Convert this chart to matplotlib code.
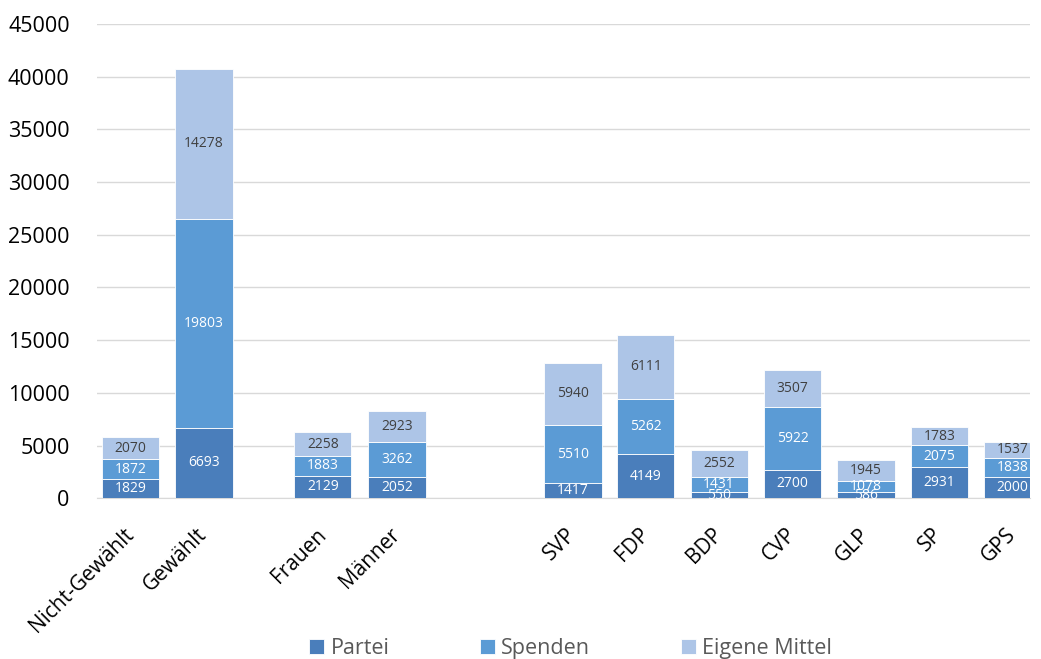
import numpy as np
import matplotlib.pyplot as plt

categories = ['Nicht-Gewählt', 'Gewählt', 'Frauen', 'Männer', 'SVP', 'FDP',
              'BDP', 'CVP', 'GLP', 'SP', 'GPS']
partei = [1829, 6693, 2129, 2052, 1417, 4149, 550, 2700, 586, 2931, 2000]
spenden = [1872, 19803, 1883, 3262, 5510, 5262, 1431, 5922, 1078, 2075, 1838]
eigene = [2070, 14278, 2258, 2923, 5940, 6111, 2552, 3507, 1945, 1783, 1537]

plt.rcParams['font.family'] = ['Open Sans', 'DejaVu Sans']

# slot positions (groups separated by gaps)
xpos = np.array([0, 1, 2.62, 3.63, 6.03, 7.02, 8.02, 9.02, 10.02, 11.02, 12.02])
width = 0.78

fig = plt.figure(figsize=(10.41, 6.59), dpi=100)
ax = fig.add_axes([0.093, 0.244, 0.896, 0.7196])

series = [('Partei', partei, '#4a7ebb', 'white'),
          ('Spenden', spenden, '#5b9bd5', 'white'),
          ('Eigene Mittel', eigene, '#adc5e7', '#404040')]
bottom = np.zeros(len(categories))
for name, vals, col, tcol in series:
    vals = np.array(vals)
    ax.bar(xpos, vals, width, bottom=bottom, color=col, edgecolor='white',
           linewidth=0.6, label=name, zorder=3)
    for x, b, v in zip(xpos, bottom, vals):
        ax.text(x, b + v / 2, str(v), ha='center', va='center', fontsize=10,
                color=tcol, zorder=4)
    bottom += vals

ax.set_ylim(0, 45000)
ax.set_xlim(-0.46, 12.25)
ax.set_yticks(range(0, 45001, 5000))
ax.yaxis.grid(True, color='#d9d9d9', linewidth=1, zorder=0)
ax.tick_params(axis='y', length=0, labelsize=15.5, pad=19.5)
ax.tick_params(axis='x', length=0, labelsize=15, pad=24)
ax.set_xticks(xpos)
ax.set_xticklabels(categories, rotation=45, ha='right', va='center',
                   rotation_mode='anchor')
for s in ['top', 'right', 'left']:
    ax.spines[s].set_visible(False)
ax.spines['bottom'].set_color('#d9d9d9')

fig.legend(loc='lower center', bbox_to_anchor=(0.548, -0.03), ncol=3,
           frameon=False, fontsize=15.5, columnspacing=4.2, handlelength=0.7,
           handleheight=0.7, handletextpad=0.3, labelcolor='#595959')

fig.savefig('out.png', dpi=100)
